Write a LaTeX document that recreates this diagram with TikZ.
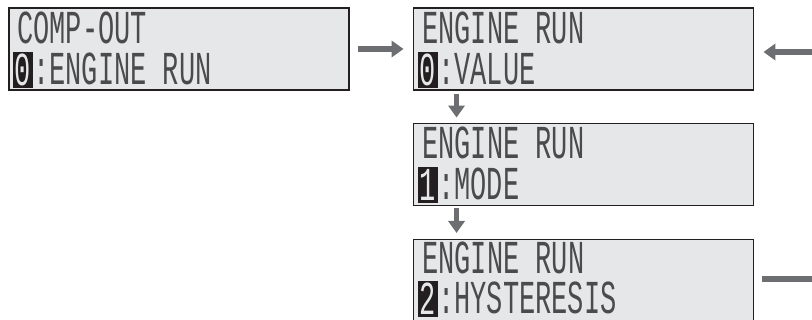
\documentclass[tikz,border=0pt]{standalone}
\usepackage{graphicx}
\usepackage{fontspec}
\newfontfamily\lcdfont{Liberation Mono}
\usetikzlibrary{arrows.meta, positioning, calc}
\definecolor{lcdgray}{RGB}{230,231,232}
\definecolor{lcdframe}{RGB}{35,31,32}
\definecolor{lcdink}{RGB}{75,75,78}
\definecolor{flowgray}{RGB}{109,110,113}
\newcommand{\lcd}[1]{\scalebox{1}[1.75]{\fontsize{19.2}{19.2}\selectfont\lcdfont #1}}

\begin{document}
\begin{tikzpicture}[x=0.025cm, y=0.025cm,
  lcdbox/.style={draw=lcdframe, fill=lcdgray, line width=1.3pt, minimum width=8.5cm, minimum height=2.05cm, inner sep=0pt},
  lcdline/.style={anchor=base west, inner sep=0pt, text=lcdink},
  invcell/.style={fill=lcdframe, text=lcdgray, minimum width=0.5cm, minimum height=0.9cm, inner sep=0pt},
  flow/.style={draw=flowgray, line width=3.6pt, -{Triangle[length=8.5pt, width=11.5pt]}},
  flowline/.style={draw=flowgray, line width=3.6pt}
]
  \useasboundingbox (0,0) rectangle (812,320);

  % LCD screens
  \node[lcdbox] (compout) at (179, 271) {};
  \node[lcdbox] (value) at (583.5, 271) {};
  \node[lcdbox] (mode) at (583.5, 155.5) {};
  \node[lcdbox] (hyst) at (583.5, 39.5) {};

  % screen texts
  \node[lcdline] (compout-top) at (17, 276) {\lcd{COMP-OUT}};
  \node[invcell] (compout-no) at (23, 250) {\lcd{0}};
  \node[lcdline] (compout-sub) at (33, 235) {\lcd{:ENGINE RUN}};

  \node[lcdline] (value-top) at (422, 276) {\lcd{ENGINE RUN}};
  \node[invcell] (value-no) at (428, 250) {\lcd{0}};
  \node[lcdline] (value-sub) at (438, 235) {\lcd{:VALUE}};

  \node[lcdline] (mode-top) at (422, 161) {\lcd{ENGINE RUN}};
  \node[invcell] (mode-no) at (428, 135) {\lcd{1}};
  \node[lcdline] (mode-sub) at (438, 120) {\lcd{:MODE}};

  \node[lcdline] (hyst-top) at (422, 46) {\lcd{ENGINE RUN}};
  \node[invcell] (hyst-no) at (428, 21) {\lcd{2}};
  \node[lcdline] (hyst-sub) at (438, 6) {\lcd{:HYSTERESIS}};

  % flow
  \coordinate (back) at (812, 268);
  \coordinate (out) at (812, 41);
  \draw[flow, shorten <=5.7pt, shorten >=6.4pt] (compout.east) -- (value.west);
  \draw[flow, shorten <=2pt, shorten >=3.6pt] ($(value.south west)+(44,0)$) -- ($(mode.north west)+(44,0)$);
  \draw[flow, shorten <=1pt, shorten >=4pt] ($(mode.south west)+(44,0)$) -- ($(hyst.north west)+(44,0)$);
  \draw[flow, shorten >=6.4pt] (back) -- (back -| value.east);
  \draw[flowline, shorten <=5.7pt] (hyst.east |- out) -- (out);
\end{tikzpicture}
\end{document}
